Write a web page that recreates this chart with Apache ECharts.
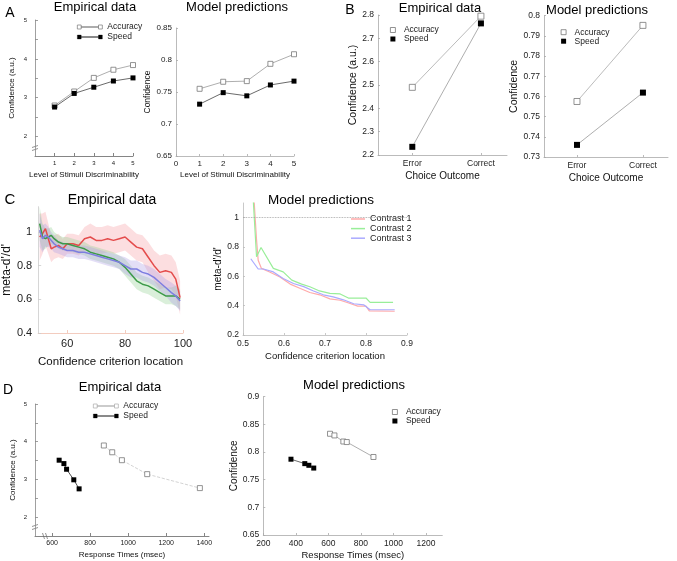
<!DOCTYPE html>
<html>
<meta charset="utf-8">
<head>
	<title>Confidence figure</title>
	<script src="https://cdn.jsdelivr.net/npm/echarts@6/dist/echarts.min.js"></script>
	<style type="text/css">
		html, body { margin: 0; padding: 0; background: #fff; }
		#main { width: 677px; height: 561px; }
	</style>
</head>
<body>
<div id="main"></div>
<script type="text/javascript">
// ---- data ----
// A: confidence vs level of discriminability
var aLevels = [1, 2, 3, 4, 5];
var aEmpAcc = [2.80, 3.16, 3.51, 3.72, 3.84];
var aEmpSpd = [2.76, 3.11, 3.27, 3.43, 3.51];
var aModAcc = [0.755, 0.766, 0.767, 0.794, 0.809];
var aModSpd = [0.731, 0.749, 0.744, 0.761, 0.767];

// B: confidence vs choice outcome
var bOutcomes = ['Error', 'Correct'];
var bEmpAcc = [2.49, 2.795];
var bEmpSpd = [2.235, 2.764];
var bModAcc = [0.7575, 0.7952];
var bModSpd = [0.736, 0.7619];

// C: meta-d'/d' vs confidence criterion location
var cEmpX = [50.5, 51.5, 52.5, 53.5, 54.5, 55.5, 57, 58.5, 60, 62, 64, 66, 68, 70, 72, 74, 76, 78, 80, 82, 84, 86, 88, 90, 92, 94, 96, 97.5, 99];
var cEmpRed = [0.97, 0.99, 1.02, 0.96, 0.90, 0.91, 0.92, 0.90, 0.93, 0.93, 0.92, 0.96, 0.97, 0.95, 0.95, 0.96, 0.95, 0.96, 0.97, 0.94, 0.91, 0.90, 0.85, 0.80, 0.76, 0.77, 0.76, 0.72, 0.61];
var cEmpGreen = [1.05, 0.97, 0.96, 0.97, 0.98, 0.96, 0.94, 0.93, 0.93, 0.92, 0.91, 0.90, 0.88, 0.87, 0.86, 0.85, 0.84, 0.82, 0.79, 0.75, 0.71, 0.69, 0.68, 0.66, 0.64, 0.62, 0.62, 0.62, 0.60];
var cEmpBlue = [1.01, 0.96, 0.98, 0.97, 0.95, 0.93, 0.91, 0.90, 0.89, 0.89, 0.88, 0.88, 0.87, 0.86, 0.85, 0.84, 0.83, 0.82, 0.80, 0.78, 0.78, 0.76, 0.75, 0.73, 0.70, 0.67, 0.64, 0.62, 0.59];
var cErrRed = [0.14, 0.12, 0.10, 0.09, 0.08, 0.07, 0.07, 0.06, 0.06, 0.06, 0.06, 0.07, 0.08, 0.08, 0.08, 0.08, 0.08, 0.08, 0.08, 0.08, 0.08, 0.08, 0.09, 0.09, 0.10, 0.10, 0.10, 0.10, 0.10];
var cErrGreen = [0.10, 0.08, 0.06, 0.05, 0.05, 0.04, 0.04, 0.04, 0.04, 0.04, 0.04, 0.04, 0.04, 0.04, 0.04, 0.04, 0.04, 0.04, 0.05, 0.05, 0.05, 0.05, 0.05, 0.05, 0.05, 0.05, 0.05, 0.06, 0.06];
var cErrBlue = [0.10, 0.08, 0.07, 0.06, 0.05, 0.05, 0.04, 0.04, 0.04, 0.04, 0.04, 0.04, 0.04, 0.04, 0.04, 0.04, 0.04, 0.04, 0.05, 0.05, 0.05, 0.05, 0.05, 0.05, 0.05, 0.05, 0.06, 0.06, 0.06];

var cModX1 = [0.527, 0.533, 0.537, 0.545, 0.565, 0.590, 0.615, 0.640, 0.663, 0.687, 0.712, 0.737, 0.756, 0.780, 0.800, 0.808, 0.870];
var cModY1 = [1.12, 0.85, 0.71, 0.654, 0.63, 0.595, 0.547, 0.517, 0.49, 0.474, 0.446, 0.437, 0.42, 0.397, 0.397, 0.365, 0.362];
var cModX2 = [0.525, 0.533, 0.544, 0.574, 0.598, 0.619, 0.643, 0.663, 0.684, 0.712, 0.737, 0.757, 0.800, 0.810, 0.866];
var cModY2 = [1.12, 0.733, 0.797, 0.654, 0.63, 0.574, 0.547, 0.529, 0.503, 0.484, 0.48, 0.452, 0.452, 0.423, 0.423];
var cModX3 = [0.519, 0.537, 0.550, 0.574, 0.598, 0.623, 0.648, 0.672, 0.696, 0.720, 0.745, 0.770, 0.795, 0.810, 0.870];
var cModY3 = [0.72, 0.65, 0.65, 0.63, 0.585, 0.551, 0.53, 0.50, 0.474, 0.46, 0.44, 0.413, 0.405, 0.372, 0.372];

// D: confidence vs response times
var dEmpAccRt = [872, 916, 967, 1100, 1377];
var dEmpAccConf = [3.90, 3.72, 3.51, 3.14, 2.77];
var dEmpSpdRt = [637, 662, 676, 714, 742];
var dEmpSpdConf = [3.51, 3.42, 3.27, 2.99, 2.75];
var dModAccRt = [610, 637, 692, 713, 877];
var dModAccConf = [0.833, 0.830, 0.819, 0.818, 0.791];
var dModSpdRt = [370, 455, 480, 510];
var dModSpdConf = [0.787, 0.779, 0.776, 0.771];

// tick labels
var aEmpTicks = [1, 2, 3, 4, 5];
var cEmpXTicks = [60, 80, 100];
var cEmpYTicks = [0.4, 0.6, 0.8, 1];
var cModYTicks = [0.2, 0.4, 0.6, 0.8, 1];
var dEmpXTicks = [600, 800, 1000, 1200, 1400];
var dModXTicks = [200, 400, 600, 800, 1000, 1200];

// ---- helpers ----
var FONT = 'Liberation Sans, Arial, Helvetica, sans-serif';
var SQUARE = 'path://M0,0H10V10H0Z';
// square - line - square legend glyph
var SQ_LINE_SQ = 'path://M0,0H4V4H0Z M4,1.75H22V2.25H4Z M22,0H26V4H22Z';

function pairs(xs, ys) {
	return xs.map(function (x, i) { return [x, ys[i]]; });
}
function axis(grid, o) {
	var a = {
		type: 'value', gridIndex: grid, min: o.min, max: o.max,
		splitLine: {show: false},
		axisLine: {show: true, onZero: false, lineStyle: {color: o.lineColor || '#999', width: 0.8}},
		axisTick: {show: true, inside: true, length: o.tickLen || 3, lineStyle: {color: o.lineColor || '#999', width: 0.8}},
		axisLabel: {fontSize: o.fontSize, color: '#222', fontFamily: FONT, margin: o.margin || 4},
		name: o.name, nameLocation: 'middle', nameGap: o.nameGap,
		nameTextStyle: {fontSize: o.nameSize, color: '#111', fontFamily: FONT}
	};
	if (o.interval) a.interval = o.interval;
	if (o.ticks) {
		a.axisTick.customValues = o.ticks;
		a.axisLabel.customValues = o.labels || o.ticks;
	}
	a.axisLabel.formatter = o.formatter || function (v) { return String(+v.toFixed(4)); };
	return a;
}
function intOnly(v) { return Math.abs(v - Math.round(v)) < 1e-6 ? String(Math.round(v)) : ''; }
function openSq(x, y, data, size, lineColor, dash) {
	return {type: 'line', name: 'Accuracy', xAxisIndex: x, yAxisIndex: y, data: data,
		symbol: 'rect', symbolSize: size,
		itemStyle: {color: '#fff', borderColor: '#777', borderWidth: 0.8},
		lineStyle: {color: lineColor || '#999', width: 0.8, type: dash || 'solid'}, z: 3};
}
function fullSq(x, y, data, size, lineColor) {
	return {type: 'line', name: 'Speed', xAxisIndex: x, yAxisIndex: y, data: data,
		symbol: 'rect', symbolSize: size,
		itemStyle: {color: '#000'},
		lineStyle: {color: lineColor || '#444', width: 0.8}, z: 3};
}
// shaded error band: polygon through mean+err, back along mean-err
function band(g, xs, mean, err, color) {
	return {
		type: 'custom', xAxisIndex: g, yAxisIndex: g, silent: true, z: 1,
		data: [[xs[0], mean[0]]],
		renderItem: function (params, api) {
			var pts = [], i;
			for (i = 0; i < xs.length; i++) pts.push(api.coord([xs[i], mean[i] + err[i]]));
			for (i = xs.length - 1; i >= 0; i--) pts.push(api.coord([xs[i], mean[i] - err[i]]));
			return {type: 'polygon', shape: {points: pts}, style: {fill: color}};
		}
	};
}
function markerLegend(left, top, lh) {
	return {left: left, top: top, orient: 'vertical', icon: SQUARE, itemWidth: 12, itemHeight: 5, itemGap: 0,
		textStyle: {fontSize: 8.5, lineHeight: lh, color: '#222', fontFamily: FONT},
		data: [{name: 'Accuracy', itemStyle: {color: '#fff', borderColor: '#777', borderWidth: 0.8}},
			{name: 'Speed', itemStyle: {color: '#000', borderWidth: 0}}]};
}
function lineLegend(left, top, accBorder) {
	return {left: left, top: top, orient: 'vertical', icon: SQ_LINE_SQ, symbolKeepAspect: false,
		itemWidth: 25, itemHeight: 4, itemGap: 0,
		textStyle: {fontSize: 8.5, lineHeight: 10, color: '#222', fontFamily: FONT},
		data: [{name: 'Accuracy', itemStyle: {color: '#fff', borderColor: accBorder, borderWidth: 0.7}},
			{name: 'Speed', itemStyle: {color: '#000', borderColor: '#000', borderWidth: 0.3}}]};
}
function label(x, y, text, size) {
	return {type: 'text', x: x, y: y, style: {text: text, font: size + 'px ' + FONT, fill: '#000',
		textAlign: 'center', textVerticalAlign: 'middle'}};
}
// little axis-break glyph (two slashes over a gap in the axis line)
function axisBreak(x, y, vertical) {
	var s = {stroke: '#666', lineWidth: 0.7};
	return {type: 'group', x: x, y: y, rotation: vertical ? 0 : -Math.PI / 2, silent: true, z: 50, children: [
		{type: 'rect', shape: {x: -2, y: -1.5, width: 4, height: 3}, style: {fill: '#fff'}},
		{type: 'line', shape: {x1: -3, y1: -0.5, x2: 3, y2: -2.5}, style: s},
		{type: 'line', shape: {x1: -3, y1: 2.5, x2: 3, y2: 0.5}, style: s}
	]};
}

var myChart = echarts.init(document.getElementById('main'), null, {renderer: 'canvas'});

var bLabel = function (v) { return bOutcomes[Math.round(v) - 1] || ''; };

var option = {
	animation: false,
	backgroundColor: '#fff',
	textStyle: {fontFamily: FONT},
	grid: [
		{left: 35, top: 20, width: 98, height: 136},
		{left: 176, top: 28, width: 118, height: 128},
		{left: 378, top: 15, width: 129, height: 140},
		{left: 544, top: 15.7, width: 124, height: 141.3},
		{left: 37, top: 206.7, width: 146, height: 126.3},
		{left: 243, top: 203, width: 164, height: 132},
		{left: 35, top: 404, width: 174, height: 132},
		{left: 263.3, top: 396.7, width: 179, height: 138.3}
	],
	xAxis: [
		axis(0, {min: 0, max: 5, ticks: aEmpTicks, fontSize: 6, lineColor: '#666',
			name: 'Level of Stimuli Discriminability', nameGap: 15, nameSize: 8}),
		axis(1, {min: 0, max: 5, interval: 1, fontSize: 8, lineColor: '#aaa', tickLen: 2,
			name: 'Level of Stimuli Discriminability', nameGap: 15, nameSize: 8}),
		axis(2, {min: 0.5, max: 2.38, ticks: [1, 2], formatter: bLabel, fontSize: 8.5, lineColor: '#aaa', tickLen: 2,
			name: 'Choice Outcome', nameGap: 16, nameSize: 10}),
		axis(3, {min: 0.5, max: 2.38, ticks: [1, 2], formatter: bLabel, fontSize: 8.5, lineColor: '#aaa', tickLen: 2,
			name: 'Choice Outcome', nameGap: 16, nameSize: 10}),
		axis(4, {min: 50, max: 100, ticks: cEmpXTicks, fontSize: 11, lineColor: '#f0bfae', margin: 5,
			name: 'Confidence criterion location', nameGap: 23, nameSize: 11.5}),
		axis(5, {min: 0.5, max: 0.9, interval: 0.1, fontSize: 8.5, lineColor: '#bbb', tickLen: 2,
			name: 'Confidence criterion location', nameGap: 16, nameSize: 9.5}),
		axis(6, {min: 510, max: 1425, ticks: dEmpXTicks, fontSize: 7, lineColor: '#666',
			name: 'Response Times (msec)', nameGap: 15, nameSize: 8}),
		axis(7, {min: 200, max: 1300, ticks: dModXTicks, fontSize: 8.5, lineColor: '#aaa', tickLen: 2,
			name: 'Response Times (msec)', nameGap: 15, nameSize: 9.5})
	],
	yAxis: [
		axis(0, {min: 1.5, max: 5, interval: 0.5, formatter: intOnly, fontSize: 6, lineColor: '#888', margin: 8,
			name: 'Confidence (a.u.)', nameGap: 19, nameSize: 8}),
		axis(1, {min: 0.65, max: 0.85, interval: 0.05, fontSize: 8, lineColor: '#aaa', tickLen: 2,
			name: 'Confidence', nameGap: 22, nameSize: 8.5}),
		axis(2, {min: 2.2, max: 2.8, interval: 0.1, fontSize: 8.5, lineColor: '#aaa', tickLen: 2,
			name: 'Confidence (a.u.)', nameGap: 16, nameSize: 10.5}),
		axis(3, {min: 0.73, max: 0.8, interval: 0.01, fontSize: 8.5, lineColor: '#aaa', tickLen: 2,
			name: 'Confidence', nameGap: 21, nameSize: 10.5}),
		axis(4, {min: 0.4, max: 1.15, ticks: cEmpYTicks, fontSize: 11, lineColor: '#ccc', tickLen: 0, margin: 6,
			name: "meta-d'/d'", nameGap: 19, nameSize: 12}),
		axis(5, {min: 0.2, max: 1.1, ticks: cModYTicks, fontSize: 8.5, lineColor: '#bbb', tickLen: 2,
			name: "meta-d'/d'", nameGap: 18, nameSize: 10}),
		axis(6, {min: 1.5, max: 5, interval: 0.5, formatter: intOnly, fontSize: 6, lineColor: '#888', margin: 8,
			name: 'Confidence (a.u.)', nameGap: 18, nameSize: 8}),
		axis(7, {min: 0.65, max: 0.9, interval: 0.05, fontSize: 8.5, lineColor: '#aaa', tickLen: 2,
			name: 'Confidence', nameGap: 21, nameSize: 10})
	],
	legend: [
		lineLegend(72, 17, '#777'),
		markerLegend(385, 20.5, 9),
		markerLegend(555.7, 22.7, 8.5),
		{left: 346, top: 209.2, orient: 'vertical', icon: 'rect', symbolKeepAspect: false,
			itemWidth: 14, itemHeight: 1.5, itemGap: 0,
			textStyle: {fontSize: 9, lineHeight: 9.6, color: '#222', fontFamily: FONT},
			data: [{name: 'Contrast 1', itemStyle: {color: '#ffaaaa'}},
				{name: 'Contrast 2', itemStyle: {color: '#99ee99'}},
				{name: 'Contrast 3', itemStyle: {color: '#aaaaff'}}]},
		lineLegend(88, 396, '#aaa'),
		markerLegend(387, 402.5, 9)
	],
	graphic: [
		label(10, 13, 'A', 14), label(95, 7, 'Empirical data', 13), label(237, 7, 'Model predictions', 13),
		label(350, 10, 'B', 14), label(440, 8, 'Empirical data', 13), label(597, 10, 'Model predictions', 13),
		label(10, 200, 'C', 15), label(112, 200, 'Empirical data', 14), label(321, 200, 'Model predictions', 13.5),
		label(8, 390, 'D', 14), label(120, 387, 'Empirical data', 13), label(354, 385, 'Model predictions', 13),
		axisBreak(35, 148, true), axisBreak(35, 527, true), axisBreak(45, 536, false)
	],
	series: [].concat(
		// A
		[openSq(0, 0, pairs(aLevels, aEmpAcc), 5), fullSq(0, 0, pairs(aLevels, aEmpSpd), 5),
		 openSq(1, 1, pairs(aLevels, aModAcc), 5), fullSq(1, 1, pairs(aLevels, aModSpd), 5)],
		// B
		[openSq(2, 2, bEmpAcc.map(function (v, i) { return [i + 1, v]; }), 6, '#aaa'),
		 fullSq(2, 2, bEmpSpd.map(function (v, i) { return [i + 1, v]; }), 6, '#999'),
		 openSq(3, 3, bModAcc.map(function (v, i) { return [i + 1, v]; }), 6, '#aaa'),
		 fullSq(3, 3, bModSpd.map(function (v, i) { return [i + 1, v]; }), 6, '#999')],
		// C empirical: shaded bands then mean lines
		[band(4, cEmpX, cEmpRed, cErrRed, 'rgba(245,160,165,0.35)'),
		 band(4, cEmpX, cEmpGreen, cErrGreen, 'rgba(150,210,150,0.35)'),
		 band(4, cEmpX, cEmpBlue, cErrBlue, 'rgba(175,160,230,0.35)')],
		[{type: 'line', name: 'emp red', xAxisIndex: 4, yAxisIndex: 4, data: pairs(cEmpX, cEmpRed), symbol: 'none',
			lineStyle: {color: '#e44c4c', width: 1.5}, z: 4},
		 {type: 'line', name: 'emp green', xAxisIndex: 4, yAxisIndex: 4, data: pairs(cEmpX, cEmpGreen), symbol: 'none',
			lineStyle: {color: '#3c9a48', width: 1.5}, z: 4},
		 {type: 'line', name: 'emp blue', xAxisIndex: 4, yAxisIndex: 4, data: pairs(cEmpX, cEmpBlue), symbol: 'none',
			lineStyle: {color: '#7d7de0', width: 1.5}, z: 4}],
		// C model
		[{type: 'line', name: 'Contrast 1', xAxisIndex: 5, yAxisIndex: 5, data: pairs(cModX1, cModY1), symbol: 'none',
			lineStyle: {color: '#ffaaaa', width: 1.2}, itemStyle: {color: '#ffaaaa'},
			markLine: {silent: true, symbol: 'none', label: {show: false},
				lineStyle: {type: 'dotted', color: '#999', width: 0.8}, data: [{yAxis: 1}]}},
		 {type: 'line', name: 'Contrast 2', xAxisIndex: 5, yAxisIndex: 5, data: pairs(cModX2, cModY2), symbol: 'none',
			lineStyle: {color: '#99ee99', width: 1.2}, itemStyle: {color: '#99ee99'}},
		 {type: 'line', name: 'Contrast 3', xAxisIndex: 5, yAxisIndex: 5, data: pairs(cModX3, cModY3), symbol: 'none',
			lineStyle: {color: '#aaaaff', width: 1.2}, itemStyle: {color: '#aaaaff'}}],
		// D
		[openSq(6, 6, pairs(dEmpAccRt, dEmpAccConf), 5, '#c8c8c8', 'dashed'),
		 fullSq(6, 6, pairs(dEmpSpdRt, dEmpSpdConf), 5, '#222'),
		 openSq(7, 7, pairs(dModAccRt, dModAccConf), 5, '#999'),
		 fullSq(7, 7, pairs(dModSpdRt, dModSpdConf), 5, '#444')]
	)
};
myChart.setOption(option);
</script>
</body>
</html>
